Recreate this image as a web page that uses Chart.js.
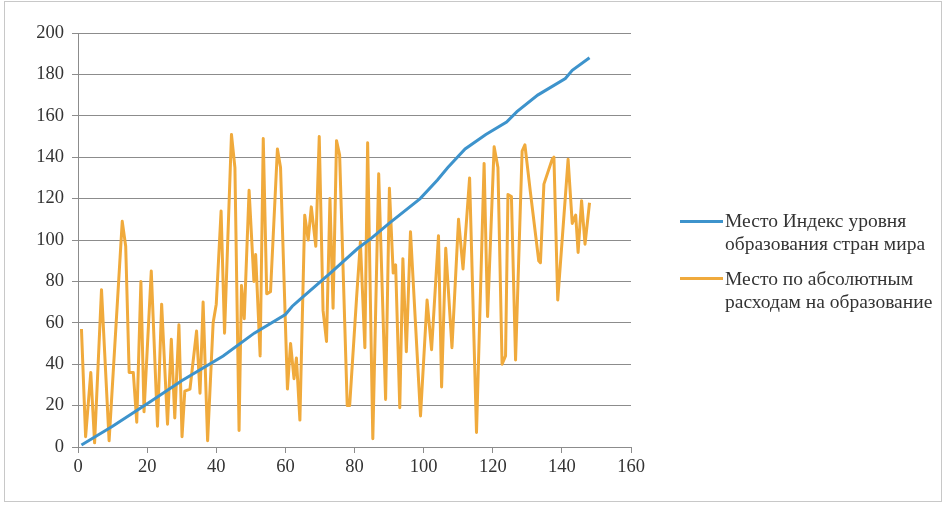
<!DOCTYPE html>
<html><head><meta charset="utf-8">
<script src="https://cdn.jsdelivr.net/npm/chart.js@4"></script>
<style>
html,body{margin:0;padding:0;background:#fff;}
#wrap{position:relative;width:946px;height:506px;overflow:hidden;background:#fff;}
#frame{position:absolute;left:4px;top:1px;width:938px;height:501px;border:1px solid #c8c8c8;box-sizing:border-box;}
#c{position:absolute;left:0;top:0;}
.leg{position:absolute;left:725px;font-family:"Liberation Serif",serif;font-size:19.5px;color:#333;line-height:23px;white-space:nowrap;}
.sw{position:absolute;left:680px;width:43px;height:3px;}
</style></head>
<body>
<div id="wrap">
<div id="frame"></div>
<canvas id="c" width="946" height="506"></canvas>
<div class="sw" style="top:220px;background:#3d93cc"></div>
<div class="leg" style="top:209px">Место Индекс уровня<br>образования стран мира</div>
<div class="sw" style="top:277px;background:#f0aa3c"></div>
<div class="leg" style="top:267px">Место по абсолютным<br>расходам на образование</div>
</div>
<script>
const seriesNames = ["Место Индекс уровня образования стран мира", "Место по абсолютным расходам на образование"];
const xTicks = [0,20,40,60,80,100,120,140,160];
const yTicks = [0,20,40,60,80,100,120,140,160,180,200];

const blueX = [1,10,21,30,42,51,60,62,64,73,81,85,90,99,104,107,112,118,124,127,133,141,143,148];
const blueY = [1,10,22,32,44,55,64,68,71,84,96,101,108,120,129,135,144,151,157,162,170,178,182,188];

const orangeX = [1,2.2,3.7,4.8,6.8,9,12.8,13.8,14.8,16,17,18.2,19.1,21.2,23,24.2,25.9,27,28,29.2,30.1,30.9,32.4,34.3,35.3,36.2,37.5,39.1,40,41.4,42.4,44.4,45.4,46.6,47.3,48.1,49.5,50.9,51.4,52.7,53.6,54.6,55.7,57.7,58.6,60.6,61.5,62.5,63.2,64.2,65.6,66.6,67.5,68.8,69.8,70.9,71.9,72.9,73.8,74.8,75.7,77.9,78.6,80.6,81.7,83,83.8,85.3,87,89,90.1,91.2,91.9,93.1,94,95,96.2,99.1,101,102.3,104.3,105.2,106.4,108.2,110.1,111.4,113.3,115.3,117.5,118.5,120.4,121.5,122.7,123.7,124.4,125.4,126.6,128.5,129.3,130.9,133.3,133.8,134.8,137.2,137.7,138.8,141.8,143,144,144.7,145.7,146.7,148];
const orangeY = [57,5,36,2,76,3,109,97,36,36,12,80,17,85,10,69,11,52,14,59,5,27,28,56,26,70,3,60,69,114,55,151,135,8,78,62,124,80,93,44,149,74,75,144,135,28,50,33,43,13,112,100,116,97,150,66,51,120,67,148,141,20,20,72,99,48,147,4,132,23,125,84,88,19,91,46,104,15,71,47,102,29,96,48,110,86,130,7,137,63,145,135,40,44,122,121,42,143,146,123,90,89,127,139,140,71,139,108,112,94,119,98,118];

const toPts = (xs, ys) => xs.map((x, i) => ({x, y: ys[i]}));
const tickFont = {family: "'Liberation Serif', serif", size: 18.5};

new Chart(document.getElementById('c'), {
  type: 'line',
  data: {
    datasets: [
      {label: seriesNames[0], data: toPts(blueX, blueY), borderColor: '#3d93cc', borderWidth: 3, pointRadius: 0, tension: 0, order: 1},
      {label: seriesNames[1], data: toPts(orangeX, orangeY), borderColor: '#f0aa3c', borderWidth: 3, pointRadius: 0, tension: 0, order: 2, borderJoinStyle: 'round'}
    ]
  },
  options: {
    responsive: false,
    animation: false,
    events: [],
    layout: {padding: {left: 0, right: 315, top: 33, bottom: 0}},
    plugins: {legend: {display: false}, tooltip: {enabled: false}},
    scales: {
      x: {
        type: 'linear', min: 0, max: 160,
        afterBuildTicks: s => { s.ticks = xTicks.map(v => ({value: v})); },
        afterFit: s => { s.height = 59; },
        grid: {display: true, drawOnChartArea: false, drawTicks: true, tickLength: 6, color: '#8c8c8c'},
        border: {display: true, color: '#8c8c8c', width: 1},
        ticks: {font: tickFont, color: '#333', padding: 3, maxRotation: 0}
      },
      y: {
        min: 0, max: 200,
        afterBuildTicks: s => { s.ticks = yTicks.map(v => ({value: v})); },
        afterFit: s => { s.width = 78; },
        grid: {color: '#8c8c8c', lineWidth: 1, drawTicks: true, tickLength: 6},
        border: {display: true, color: '#8c8c8c', width: 1},
        ticks: {font: tickFont, color: '#333', padding: 8}
      }
    }
  }
});
</script>
</body></html>
